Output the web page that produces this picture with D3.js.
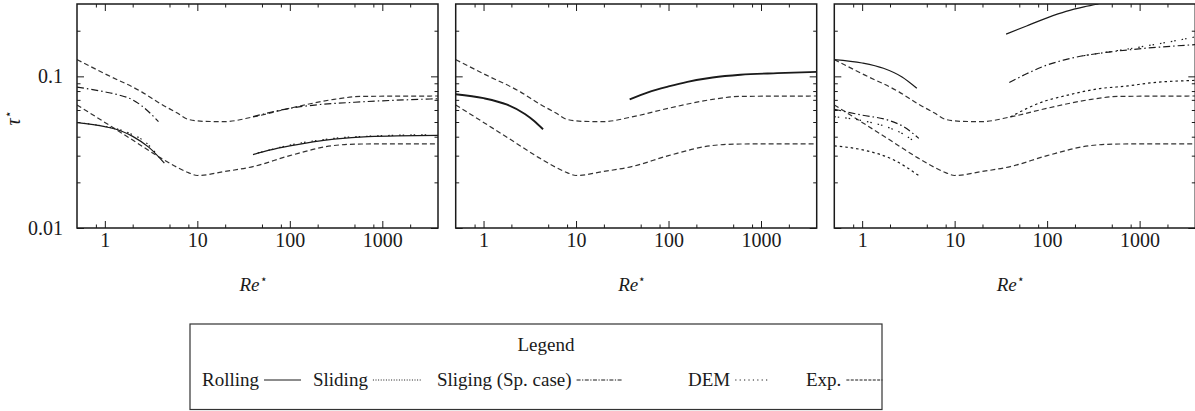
<!DOCTYPE html>
<html>
<head>
<meta charset="utf-8">
<script src="https://cdn.jsdelivr.net/npm/d3@7"></script>
<style>
  body { margin: 0; background: #fff; }
  svg { display: block; font-family: "Liberation Serif", serif; }
  svg text { font-family: "Liberation Serif", serif !important; }
</style>
</head>
<body>
<svg id="chart" width="1195" height="411"></svg>
<script>
// axes
const xDomain = [0.5, 4000];
const yDomain = [0.01, 0.3];
const xMajor = [1, 10, 100, 1000];
const xMinor = [0.8, 2, 5, 8, 20, 50, 80, 200, 500, 800, 2000];
const yMajor = [0.01, 0.1];
const yMinor = [0.02, 0.03, 0.04, 0.05, 0.06, 0.07, 0.08, 0.09, 0.2];

// experimental curves, same in every panel
const expUpper = [[0.5,0.129],[1,0.104],[2.5,0.079],[4,0.066],[6,0.0575],[8,0.052],[12,0.0505],[20,0.0503],[40,0.054],[100,0.0616],[300,0.0705],[600,0.0738],[4000,0.0742]];
const expLower = [[0.5,0.0648],[1,0.0497],[2,0.038],[4,0.029],[6,0.0252],[8,0.0232],[10,0.0222],[20,0.0236],[40,0.0254],[100,0.030],[300,0.035],[600,0.0358],[4000,0.0359]];

// panel 1
const p1RollingLeft = [[0.5,0.0495],[1,0.0466],[1.5,0.0436],[2,0.0402],[3,0.034],[4.4,0.0268]];
const p1RollingRight = [[40,0.0305],[60,0.0326],[100,0.0348],[300,0.0386],[700,0.0401],[4000,0.0408]];
const p1SpLeft = [[0.5,0.085],[1,0.079],[1.4,0.0755],[2,0.07],[2.5,0.064],[3.2,0.056],[3.8,0.0503]];
const p1SpRight = [[40,0.0542],[100,0.0616],[200,0.065],[500,0.0675],[1000,0.069],[4000,0.0712]];
const p1DemLeft = [[0.6,0.049],[1,0.0468],[1.5,0.0442],[2,0.0412],[2.7,0.0372],[3.5,0.0315]];
const p1DemRight = [[45,0.0312],[100,0.0352],[300,0.039],[1000,0.0406],[3000,0.0412]];

// panel 2
const p2RollingLeft = [[0.5,0.0762],[1,0.0718],[1.8,0.065],[2.8,0.0565],[3.5,0.051],[4.4,0.0448]];
const p2RollingRight = [[38,0.0706],[60,0.0785],[100,0.0858],[160,0.092],[300,0.0983],[600,0.1025],[1500,0.105],[4000,0.107]];

// panel 3
const p3RollingLeft = [[0.5,0.129],[1,0.1225],[1.7,0.113],[2.7,0.099],[3.9,0.0834]];
const p3RollingRight = [[36,0.19],[60,0.215],[100,0.243],[160,0.268],[250,0.287],[360,0.30]];
const p3SpLeft = [[0.5,0.0607],[1,0.0555],[1.9,0.0515],[2.8,0.0466],[4.1,0.039]];
const p3SpRight = [[39,0.091],[60,0.104],[90,0.116],[150,0.128],[400,0.143],[800,0.15],[4000,0.162]];
const p3SlidingLeft = [[0.5,0.0348],[1.1,0.0324],[2.2,0.0281],[3,0.0252],[4.2,0.0219]];
const p3SlidingRight = [[40,0.054],[90,0.068],[150,0.074],[370,0.083],[750,0.0865],[1300,0.0905],[4000,0.094]];
const p3DemLeft = [[0.5,0.0542],[1.1,0.0505],[2,0.0456],[2.8,0.0415],[3.5,0.038]];
const p3DemRight = [[250,0.137],[500,0.146],[1000,0.156],[2000,0.168],[4000,0.182]];

const legendNames = ["Rolling", "Sliding", "Sliging (Sp. case)", "DEM", "Exp."];
const legendKeys = ["rolling", "sliding", "sp", "dem", "exp"];

// line styles for the plot and for the legend samples
const STYLES = {
	rolling: {dash: null, legendDash: null},
	sliding: {dash: "2.5,3", legendDash: "1,1.6"},
	sp:      {dash: "7,3,1.5,3", legendDash: "4,1.5,1.2,1.5"},
	dem:     {dash: "1.5,2,1.5,6", legendDash: "1.2,3.2"},
	exp:     {dash: "5,3", legendDash: "3,1.4"}
};

const panels = [
	[["exp", expUpper], ["exp", expLower], ["sp", p1SpLeft], ["sp", p1SpRight],
	 ["dem", p1DemLeft], ["dem", p1DemRight], ["rolling", p1RollingLeft], ["rolling", p1RollingRight]],
	[["exp", expUpper], ["exp", expLower], ["rolling", p2RollingLeft], ["rolling", p2RollingRight]],
	[["exp", expUpper], ["exp", expLower], ["sliding", p3SlidingLeft], ["sliding", p3SlidingRight],
	 ["dem", p3DemLeft], ["dem", p3DemRight], ["sp", p3SpLeft], ["sp", p3SpRight],
	 ["rolling", p3RollingLeft], ["rolling", p3RollingRight]]
];

const svg = d3.select("#chart");
const PANEL_W = 361, PANEL_H = 224, TOP = 4;
const LEFTS = [77, 455.7, 834.3];
const INK = "#1a1a1a";

const x = d3.scaleLog().domain(xDomain).range([0, PANEL_W]);
const y = d3.scaleLog().domain(yDomain).range([PANEL_H, 0]);

const line = d3.line()
	.x(d => x(d[0]))
	.y(d => y(d[1]))
	.curve(d3.curveMonotoneX);

panels.forEach((series, i) => {
	const g = svg.append("g").attr("transform", `translate(${LEFTS[i]},${TOP})`);

	g.append("clipPath").attr("id", "clip" + i)
		.append("rect").attr("width", PANEL_W).attr("height", PANEL_H);

	const plot = g.append("g").attr("clip-path", `url(#clip${i})`);
	series.forEach(([key, pts]) => {
		plot.append("path")
			.datum(pts)
			.attr("d", line)
			.attr("fill", "none")
			.attr("stroke", key == "exp" ? "#333" : INK)
			.attr("stroke-width", (i == 1 && key == "rolling") ? 1.9 : 1.2)
			.attr("stroke-dasharray", STYLES[key].dash);
	});

	// inward ticks on all four sides, majors and minors in their own groups
	const axes = [
		[d3.axisBottom, x, `translate(0,${PANEL_H})`, xMajor, xMinor, true],
		[d3.axisTop, x, "translate(0,0)", xMajor, xMinor, false],
		[d3.axisLeft, y, "translate(0,0)", yMajor, yMinor, i == 0],
		[d3.axisRight, y, `translate(${PANEL_W},0)`, yMajor, yMinor, false]
	];
	axes.forEach(([make, sc, tr, major, minor, labels], k) => {
		const gMaj = g.append("g").attr("transform", tr)
			.call(make(sc).tickValues(major).tickSizeInner(-7).tickSizeOuter(0)
				.tickPadding(k == 0 ? 5 : 14)
				.tickFormat(labels ? d3.format("") : ""));
		const gMin = g.append("g").attr("transform", tr)
			.call(make(sc).tickValues(minor).tickSizeInner(-3.5).tickSizeOuter(0).tickFormat(""));
		[gMaj, gMin].forEach(a => {
			a.attr("font-family", null);
			a.selectAll(".domain").remove();
			a.selectAll("line").attr("stroke", INK).attr("stroke-width", 1);
			a.selectAll("text").attr("font-size", 20).attr("fill", INK);
		});
		if(!labels){ gMaj.selectAll("text").remove(); }
		gMin.selectAll("text").remove();
	});

	g.append("rect")
		.attr("width", PANEL_W).attr("height", PANEL_H)
		.attr("fill", "none").attr("stroke", INK).attr("stroke-width", 1.5);

	const xl = g.append("text")
		.attr("x", PANEL_W / 2 - 4).attr("y", 287)
		.attr("text-anchor", "middle")
		.attr("font-size", 19).attr("fill", INK);
	xl.append("tspan").attr("font-style", "italic").text("Re");
	xl.append("tspan").attr("font-size", 12).attr("dy", -8).text("\u22c6");
});

// y label
const yl = svg.append("text")
	.attr("transform", "translate(20,118) rotate(-90)")
	.attr("text-anchor", "middle")
	.attr("font-size", 20).attr("fill", INK);
yl.append("tspan").attr("font-style", "italic").text("\u03c4");
yl.append("tspan").attr("font-size", 12).attr("dy", -8).text("\u22c6");

// legend
const LX0 = 190, LX1 = 882, LY0 = 324, LY1 = 409.5;
const lg = svg.append("g");
lg.append("rect")
	.attr("x", LX0).attr("y", LY0).attr("width", LX1 - LX0).attr("height", LY1 - LY0)
	.attr("fill", "none").attr("stroke", "#333").attr("stroke-width", 1.2);
lg.append("text")
	.attr("x", (LX0 + LX1) / 2 + 10).attr("y", 351)
	.attr("text-anchor", "middle").attr("font-size", 19).attr("fill", INK)
	.text("Legend");

// where each legend entry starts, and how long its sample line is
const itemX = [202, 313, 437, 688, 806];
const sampleLen = [37, 48, 45, 35, 36];
legendNames.forEach((name, i) => {
	const t = lg.append("text").attr("x", itemX[i]).attr("y", 386)
		.attr("font-size", 19).attr("fill", INK).text(name);
	const x0 = itemX[i] + t.node().getComputedTextLength() + 5;
	lg.append("line")
		.attr("x1", x0).attr("x2", x0 + sampleLen[i]).attr("y1", 380).attr("y2", 380)
		.attr("stroke", INK).attr("stroke-width", 1)
		.attr("stroke-dasharray", STYLES[legendKeys[i]].legendDash);
});
</script>
</body>
</html>
